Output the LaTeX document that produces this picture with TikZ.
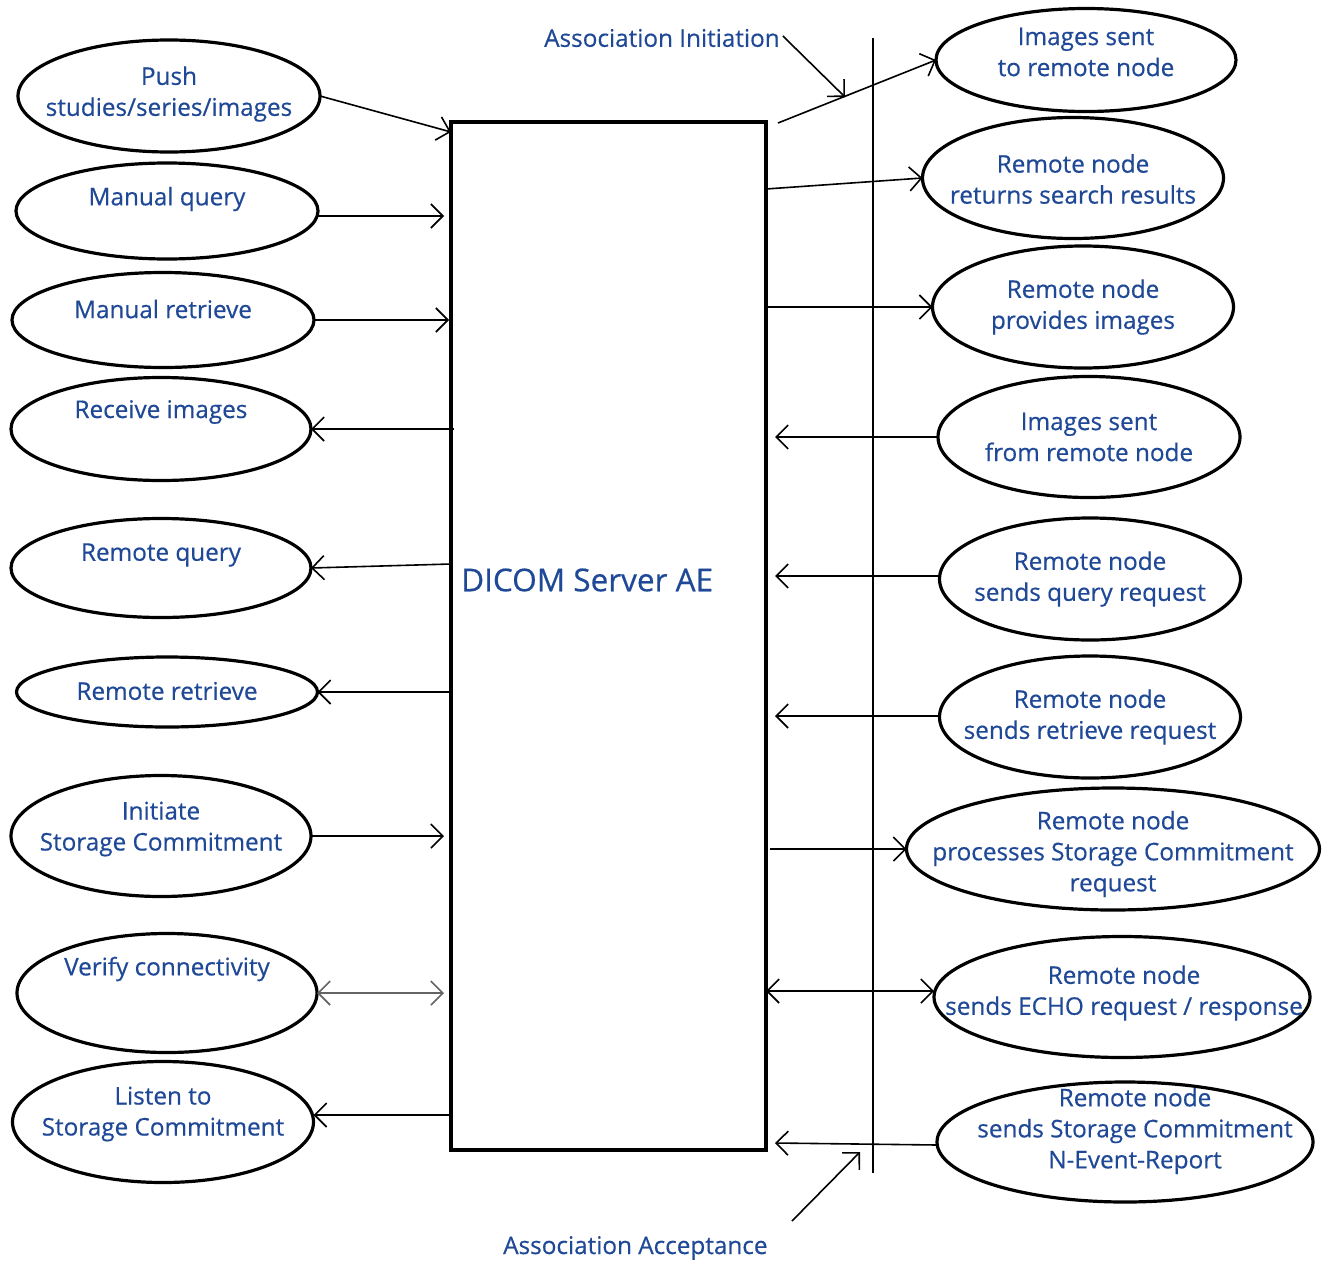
\documentclass[tikz,border=0pt]{standalone}
\usepackage{fontspec}
\setmainfont{Open Sans}
\newfontfamily\medfont{Open Sans}[FakeBold=0.5]
\usetikzlibrary{shapes.geometric,arrows.meta}
\definecolor{txt}{RGB}{31,73,150}
\definecolor{grayarr}{RGB}{100,100,100}
\tikzset{
  ell/.style={draw, ellipse, line width=3.2pt, inner sep=0pt, outer sep=0pt},
  lbl/.style={text=txt, font=\medfont\fontsize{24.3}{31}\selectfont, align=center, inner sep=0pt},
  arr/.style={line width=1.6pt, -{Straight Barb[length=12pt,width=24pt,line width=1.6pt]}},
  darr/.style={line width=1.6pt, {Straight Barb[length=12pt,width=24pt,line width=1.6pt]}-{Straight Barb[length=12pt,width=24pt,line width=1.6pt]}},
}
\begin{document}
\begin{tikzpicture}[x=1pt,y=-1pt]
\useasboundingbox (0,0) rectangle (1336,1261);
% main box
\node[draw, line width=3.5pt, minimum width=315pt, minimum height=1028pt, inner sep=0pt, outer sep=0pt] (box) at (608.5,636) {};
\node[text=txt, font=\medfont\fontsize{31.5}{36}\selectfont, anchor=west, inner sep=0pt] (boxlbl) at (461,580) {DICOM Server AE};
% vertical line
\coordinate (vtop) at (873,38);
\coordinate (vbot) at (873,1173);
\draw[line width=1.6pt] (vtop) -- (vbot);

% left ellipses
\node[ell, minimum width=302pt, minimum height=112pt] (L1) at (169,96) {};
\node[lbl] (tL1) at (169,94) {Push\\studies/series/images};
\node[ell, minimum width=302pt, minimum height=96pt] (L2) at (167,211) {};
\node[lbl] (tL2) at (167,199) {Manual query};
\node[ell, minimum width=302pt, minimum height=95pt] (L3) at (163,320) {};
\node[lbl] (tL3) at (163,309) {Manual retrieve};
\node[ell, minimum width=300pt, minimum height=103pt] (L4) at (161,429) {};
\node[lbl] (tL4) at (161,412) {Receive images};
\node[ell, minimum width=300pt, minimum height=99pt] (L5) at (161,568) {};
\node[lbl] (tL5) at (161,555) {Remote query};
\node[ell, minimum width=301pt, minimum height=70pt] (L6) at (167,692) {};
\node[lbl] (tL6) at (167,691) {Remote retrieve};
\node[ell, minimum width=300pt, minimum height=121pt] (L7) at (161,836) {};
\node[lbl] (tL7) at (161,829) {Initiate\\Storage Commitment};
\node[ell, minimum width=300pt, minimum height=119pt] (L8) at (167,993) {};
\node[lbl] (tL8) at (167,969) {Verify connectivity};
\node[ell, minimum width=301pt, minimum height=121pt] (L9) at (163,1122) {};
\node[lbl] (tL9) at (163,1114) {Listen to\\Storage Commitment};

% right ellipses
\node[ell, minimum width=300pt, minimum height=103pt] (R1) at (1086,60) {};
\node[lbl] (tR1) at (1086,52) {Images sent\\to remote node};
\node[ell, minimum width=301pt, minimum height=121pt] (R2) at (1073,178) {};
\node[lbl] (tR2) at (1073,179) {Remote node\\returns search results};
\node[ell, minimum width=301pt, minimum height=122pt] (R3) at (1083,307) {};
\node[lbl] (tR3) at (1083,307) {Remote node\\provides images};
\node[ell, minimum width=302pt, minimum height=121pt] (R4) at (1089,437) {};
\node[lbl] (tR4) at (1089,437) {Images sent\\from remote node};
\node[ell, minimum width=301pt, minimum height=122pt] (R5) at (1090,579) {};
\node[lbl] (tR5) at (1090,579) {Remote node\\sends query request};
\node[ell, minimum width=301pt, minimum height=122pt] (R6) at (1090,717) {};
\node[lbl] (tR6) at (1090,717) {Remote node\\sends retrieve request};
\node[ell, minimum width=413pt, minimum height=122pt] (R7) at (1113,849) {};
\node[lbl] (tR7) at (1113,854) {Remote node\\processes Storage Commitment\\request};
\node[ell, minimum width=376pt, minimum height=121pt] (R8) at (1122,997) {};
\node[lbl] (tR8) at (1124,993) {Remote node\\sends ECHO request / response};
\node[ell, minimum width=376pt, minimum height=120pt] (R9) at (1125,1142) {};
\node[lbl] (tR9) at (1135,1131) {Remote node\\sends Storage Commitment\\N-Event-Report};

% association labels
\node[text=txt, font=\medfont\fontsize{24.3}{28}\selectfont, anchor=west, inner sep=0pt] (ai) at (544,38) {Association Initiation};
\node[text=txt, font=\medfont\fontsize{24.3}{28}\selectfont, anchor=west, inner sep=0pt] (aa) at (503,1248) {Association Acceptance};
\coordinate (aiEnd) at (845,97);
\coordinate (aaStart) at (792,1221);
\coordinate (aaEnd) at (860,1152);
\draw[arr] ([xshift=3pt,yshift=2pt]ai.east) -- (aiEnd);
\draw[arr] (aaStart) -- (aaEnd);

% left arrows
\draw[arr] (L1.east) -- ([xshift=0pt,yshift=-10pt]box.north west);
\draw[arr] ([yshift=-5pt]L2.east) -- ([xshift=-7pt,yshift=-5pt]L2.east -| box.west);
\draw[arr] (L3.east) -- ([xshift=-2pt]L3.east -| box.west);
\draw[arr] ([xshift=3pt]L4.east -| box.west) -- (L4.east);
\draw[arr] ([yshift=4pt]L5.east -| box.west) -- (L5.east);
\draw[arr] (L6.east -| box.west) -- (L6.east);
\draw[arr] (L7.east) -- ([xshift=-7pt]L7.east -| box.west);
\draw[darr, draw=grayarr] (L8.east) -- ([xshift=-7pt]L8.east -| box.west);
\draw[arr] ([yshift=7pt]L9.east -| box.west) -- ([yshift=7pt]L9.east);

% right arrows
\draw[arr] ([xshift=12pt,yshift=-1pt]box.north east) -- (R1.west);
\draw[arr] ([yshift=-11pt]R2.west -| box.east) -- (R2.west);
\draw[arr] (R3.west -| box.east) -- (R3.west);
\draw[arr] (R4.west) -- ([xshift=9pt]R4.west -| box.east);
\draw[arr] ([yshift=3pt]R5.west) -- ([xshift=9pt,yshift=3pt]R5.west -| box.east);
\draw[arr] ([yshift=1pt]R6.west) -- ([xshift=9pt,yshift=1pt]R6.west -| box.east);
\draw[arr] ([xshift=4pt]R7.west -| box.east) -- (R7.west);
\draw[darr] ([yshift=6pt]R8.west -| box.east) -- ([yshift=6pt]R8.west);
\draw[arr] ([yshift=-3pt]R9.west) -- ([xshift=9pt,yshift=-1pt]R9.west -| box.east);
\end{tikzpicture}
\end{document}
